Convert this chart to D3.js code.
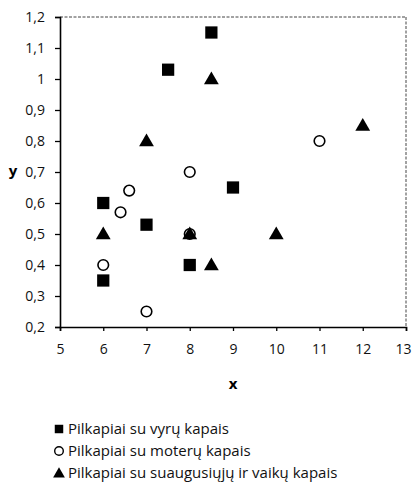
<!DOCTYPE html>
<html>
<head>
<meta charset="utf-8">
<script src="https://cdn.jsdelivr.net/npm/d3@7"></script>
<style>
  body { margin: 0; background: #fff; }
  svg { font-family: "Open Sans", "DejaVu Sans", sans-serif; }
</style>
</head>
<body>
<script>
// Pilkapiai su vyrų kapais (squares)
var vyruX = [6, 6, 7, 7.5, 8, 8.5, 9];
var vyruY = [0.6, 0.35, 0.53, 1.03, 0.4, 1.15, 0.65];
// Pilkapiai su moterų kapais (circles)
var moteruX = [6, 6.4, 6.6, 7, 8, 8, 11];
var moteruY = [0.4, 0.57, 0.64, 0.25, 0.7, 0.5, 0.8];
// Pilkapiai su suaugusiųjų ir vaikų kapais (triangles)
var mixX = [6, 7, 8, 8.5, 8.5, 10, 12];
var mixY = [0.5, 0.8, 0.5, 1.0, 0.4, 0.5, 0.85];

var xTicks = [5, 6, 7, 8, 9, 10, 11, 12, 13];
var yTicks = [0.2, 0.3, 0.4, 0.5, 0.6, 0.7, 0.8, 0.9, 1.0, 1.1, 1.2];
var legendLabels = [
  "Pilkapiai su vyrų kapais",
  "Pilkapiai su moterų kapais",
  "Pilkapiai su suaugusiųjų ir vaikų kapais"
];

var width = 414, height = 483;
var margin = {top: 17, right: 8, bottom: 156, left: 60};

var svg = d3.select("body").append("svg")
    .attr("width", width)
    .attr("height", height);

var x = d3.scaleLinear().domain([5, 13]).range([margin.left, width - margin.right]);
var y = d3.scaleLinear().domain([0.2, 1.2]).range([height - margin.bottom, margin.top]);

function fmt(d) {
  return d3.format(".1~f")(d).replace(".", ",");
}

// dashed top and right frame
svg.append("line")
    .attr("x1", x(5)).attr("x2", x(13))
    .attr("y1", y(1.2)).attr("y2", y(1.2))
    .attr("stroke", "#444").attr("stroke-width", 1)
    .attr("stroke-dasharray", "3,1.5");
svg.append("line")
    .attr("x1", x(13)).attr("x2", x(13))
    .attr("y1", y(1.2)).attr("y2", y(0.2))
    .attr("stroke", "#444").attr("stroke-width", 1)
    .attr("stroke-dasharray", "3,1.5");

// axes
var xAxis = svg.append("g")
    .attr("transform", "translate(0," + y(0.2) + ")")
    .call(d3.axisBottom(x).tickValues(xTicks).tickSize(4).tickPadding(13).tickFormat(d3.format("d")));
var yAxis = svg.append("g")
    .attr("transform", "translate(" + x(5) + ",0)")
    .call(d3.axisLeft(y).tickValues(yTicks).tickSize(5).tickPadding(10).tickFormat(fmt));

[xAxis, yAxis].forEach(function(a) {
  a.attr("font-size", 14).attr("font-family", null);
  a.select(".domain").attr("stroke", "#000").attr("stroke-width", 1.6);
  a.selectAll(".tick line").attr("stroke", "#000").attr("stroke-width", 1.3);
  a.selectAll(".tick text").attr("fill", "#111");
});
// last x label sits at the edge
xAxis.selectAll(".tick text").filter(function(d) { return d === 13; }).attr("dx", "-3");

// axis titles
svg.append("text")
    .attr("x", (x(5) + x(13)) / 2)
    .attr("y", 389)
    .attr("text-anchor", "middle")
    .style("font-size", "15px")
    .style("font-weight", "bold")
    .text("x");
svg.append("text")
    .attr("x", 13)
    .attr("y", y(0.7) + 4)
    .attr("text-anchor", "middle")
    .style("font-size", "15px")
    .style("font-weight", "bold")
    .text("y");

var sym = {
  square: d3.symbol().type(d3.symbolSquare).size(150),
  triangle: d3.symbol().type(d3.symbolTriangle).size(95)
};

// squares
svg.append("g").selectAll("path")
  .data(d3.range(vyruX.length))
  .enter().append("path")
    .attr("d", sym.square())
    .attr("transform", function(i) { return "translate(" + x(vyruX[i]) + "," + y(vyruY[i]) + ")"; })
    .attr("fill", "#000");

// circles
svg.append("g").selectAll("circle")
  .data(d3.range(moteruX.length))
  .enter().append("circle")
    .attr("cx", function(i) { return x(moteruX[i]); })
    .attr("cy", function(i) { return y(moteruY[i]); })
    .attr("r", 5.3)
    .attr("fill", "none")
    .attr("stroke", "#000")
    .attr("stroke-width", 1.6);

// triangles
svg.append("g").selectAll("path")
  .data(d3.range(mixX.length))
  .enter().append("path")
    .attr("d", sym.triangle())
    .attr("transform", function(i) { return "translate(" + x(mixX[i]) + "," + (y(mixY[i]) + 1) + ")"; })
    .attr("fill", "#000");

// legend
var legY = [429, 451, 473];
var leg = svg.append("g");
legendLabels.forEach(function(t, i) {
  var g = leg.append("g").attr("transform", "translate(59," + legY[i] + ")");
  if (i === 0) {
    g.append("path").attr("d", d3.symbol().type(d3.symbolSquare).size(72)()).attr("fill", "#000");
  } else if (i === 1) {
    g.append("circle").attr("r", 4.3).attr("fill", "none").attr("stroke", "#000").attr("stroke-width", 1.4);
  } else {
    g.append("path").attr("d", d3.symbol().type(d3.symbolTriangle).size(60)()).attr("transform", "translate(0,1)").attr("fill", "#000");
  }
  g.append("text")
      .attr("x", 9)
      .attr("y", 5)
      .style("font-size", "15px")
      .attr("fill", "#111")
      .text(t);
});
</script>
</body>
</html>
